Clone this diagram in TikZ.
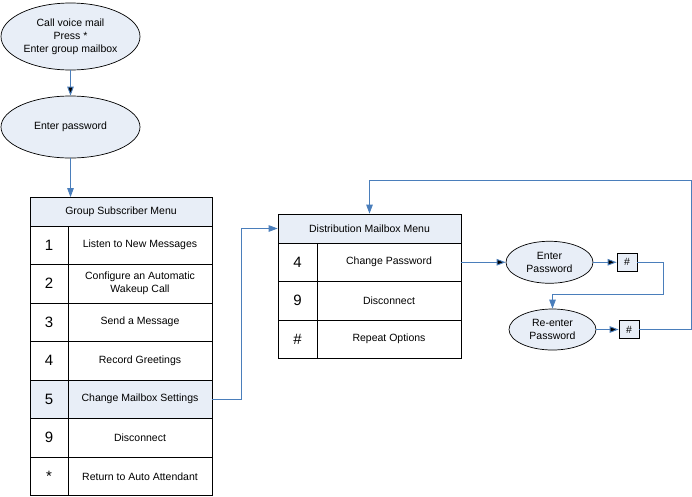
\documentclass[tikz,border=0pt]{standalone}
\usepackage{fontspec}
\setmainfont{Liberation Sans}
\usetikzlibrary{shapes.geometric,arrows.meta,positioning}

\definecolor{boxfill}{HTML}{E8EEF7}
\definecolor{linkblue}{HTML}{4A7EBB}

\tikzset{
  menustep/.style={ellipse,draw,fill=boxfill,line width=0.7pt,inner sep=0pt,align=center,font=\fontsize{10.5}{13}\selectfont},
  head/.style={rectangle,draw,fill=boxfill,line width=0.7pt,inner sep=0pt,font=\fontsize{10.5}{13}\selectfont},
  key/.style={rectangle,draw,line width=0.7pt,inner sep=0pt,minimum width=38pt,minimum height=38.5pt,font=\fontsize{15}{17}\selectfont},
  item/.style={rectangle,draw,line width=0.7pt,inner sep=0pt,minimum width=144pt,minimum height=38.5pt,align=center,font=\fontsize{10.5}{13}\selectfont},
  hash/.style={rectangle,draw,fill=boxfill,line width=0.7pt,inner sep=0pt,minimum width=20pt,minimum height=18.5pt,font=\fontsize{10.5}{13}\selectfont},
  link/.style={draw=linkblue,line width=0.9pt}
}

\begin{document}
\begin{tikzpicture}[x=1pt,y=-1pt,node distance=38.5pt,on grid,>={Triangle[length=9pt,width=6.5pt]}]
  \useasboundingbox (0,0) rectangle (692,496);
  \node[menustep,minimum width=139pt,minimum height=67pt] (call) at (70.5,36.5) {Call voice mail\\Press *\\Enter group mailbox};
  \node[menustep,minimum width=139pt,minimum height=62pt] (pass) at (70.5,127) {Enter password};
  % group subscriber menu
  \node[head,minimum width=182pt,minimum height=28.5pt] (ghead) at (121,211.75) {Group Subscriber Menu};
  \node[key] (g1) at (49,245.25) {1};
  \node[key] (g2) [below = of g1] {2};
  \node[key] (g3) [below = of g2] {3};
  \node[key] (g4) [below = of g3] {4};
  \node[key,fill=boxfill] (g5) [below = of g4] {5};
  \node[key] (g9) [below = of g5] {9};
  \node[key] (gstar) [below = of g9] {*};
  \node[item] (g1t) [right = 91pt of g1] {Listen to New Messages};
  \node[item] (g2t) [right = 91pt of g2] {Configure an Automatic\\Wakeup Call};
  \node[item] (g3t) [right = 91pt of g3] {Send a Message};
  \node[item] (g4t) [right = 91pt of g4] {Record Greetings};
  \node[item,fill=boxfill] (g5t) [right = 91pt of g5] {Change Mailbox Settings};
  \node[item] (g9t) [right = 91pt of g9] {Disconnect};
  \node[item] (gstart) [right = 91pt of gstar] {Return to Auto Attendant};
  % distribution mailbox menu
  \node[head,minimum width=183pt,minimum height=29pt] (dhead) at (369.5,228.5) {Distribution Mailbox Menu};
  \node[key,minimum width=39pt] (d4) at (297.5,262.25) {4};
  \node[key,minimum width=39pt] (d9) [below = of d4] {9};
  \node[key,minimum width=39pt] (dhash) [below = of d9] {\#};
  \node[item] (d4t) [right = 91.5pt of d4] {Change Password};
  \node[item] (d9t) [right = 91.5pt of d9] {Disconnect};
  \node[item] (dhasht) [right = 91.5pt of dhash] {Repeat Options};
  % password change
  \node[menustep,minimum width=87pt,minimum height=42pt] (newpw) at (549.5,262.25) {Enter\\Password};
  \node[hash] (h1) at (627,262.25) {\#};
  \node[menustep,minimum width=87pt,minimum height=41pt] (againpw) at (552.5,329.5) {Re-enter\\Password};
  \node[hash] (h2) at (629,329.5) {\#};
  \coordinate (back) at (691,180);
  \path[link,->]
  (call) edge (pass)
  (d4t) edge (newpw)
  (newpw) edge (h1)
  (againpw) edge (h2)
  ;
  \draw[link,->] (pass.south) -- (pass.south |- ghead.north);
  \draw[link,->] (g5t.east) -- ++(29,0) |- (dhead.west);
  \draw[link,->] (h1.east) -- ++(26,0) -- ++(0,32) -| (againpw.north);
  \draw[link,->] (h2.east) -| (back) -| (dhead.north);
\end{tikzpicture}
\end{document}
